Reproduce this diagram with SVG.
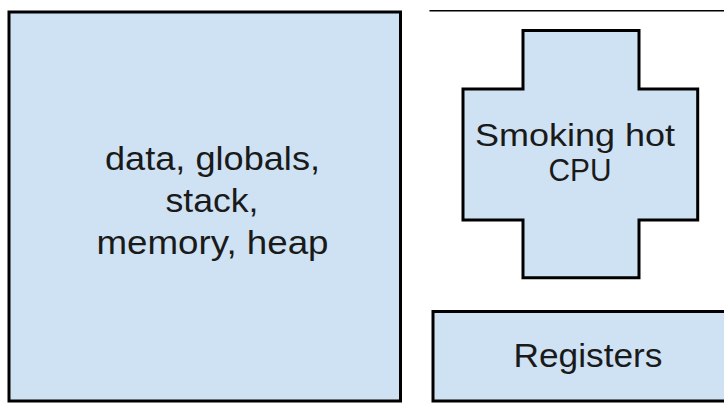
<svg xmlns="http://www.w3.org/2000/svg" width="724" height="403" viewBox="0 0 724 403">
<style>
.shape{fill:#cfe2f3;stroke:#000;stroke-width:3;stroke-linejoin:miter}
.lbl{font-family:"Liberation Sans",Arial,sans-serif;font-size:33px;fill:#1a1a1a;text-anchor:middle}
.cpu{font-size:32px}
</style>
<rect width="724" height="403" fill="#fff"/>
<g id="memory">
<rect class="shape" x="9" y="12" width="391.5" height="389"/>
<text class="lbl" x="212.5" y="170" textLength="215" lengthAdjust="spacingAndGlyphs">data, globals,</text>
<text class="lbl" x="212" y="212" textLength="93" lengthAdjust="spacingAndGlyphs">stack,</text>
<text class="lbl" x="212.5" y="254" textLength="232" lengthAdjust="spacingAndGlyphs">memory, heap</text>
</g>
<g id="topline">
<line x1="429.5" y1="10.8" x2="724" y2="10.8" stroke="#000" stroke-width="1.5"/>
</g>
<g id="cpu">
<path class="shape" d="M523,30.5 H639 V89 H697.7 V220 H639 V277.7 H523 V220 H463 V89 H523 Z"/>
<text class="lbl cpu" x="575" y="146" textLength="200" lengthAdjust="spacingAndGlyphs">Smoking hot</text>
<text class="lbl cpu" x="580" y="181" textLength="63" lengthAdjust="spacingAndGlyphs">CPU</text>
</g>
<g id="registers">
<rect class="shape" x="433" y="311.5" width="300" height="89.5"/>
<text class="lbl" x="588" y="367" textLength="149" lengthAdjust="spacingAndGlyphs">Registers</text>
</g>
<g id="connectors"></g>
</svg>
